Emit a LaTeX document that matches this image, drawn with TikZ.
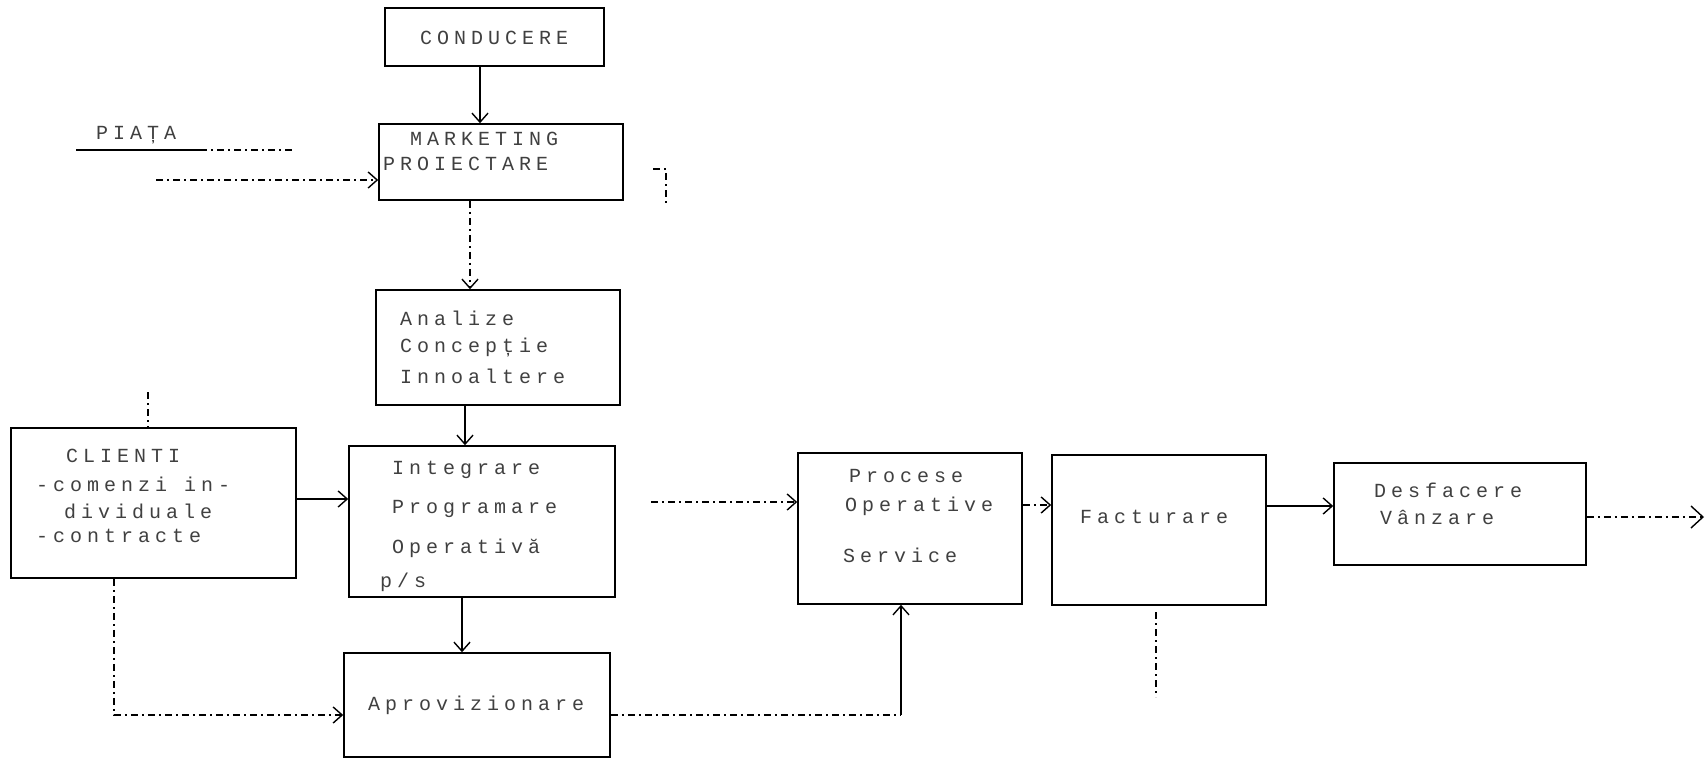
\documentclass[tikz,border=0pt]{standalone}
\usepackage{fontspec}
\newfontfamily\tw{Liberation Mono}[LetterSpace=25]
\usetikzlibrary{arrows.meta}
\tikzset{
  box/.style={draw=black, line width=1.6pt, rectangle, inner sep=0pt},
  lbl/.style={anchor=west, inner sep=0pt, text=black!75, font=\tw\fontsize{20}{24}\selectfont},
  arr/.style={line width=1.4pt, -{Straight Barb[length=9pt,width=16pt,line width=1.4pt]}},
  dsh/.style={line width=1.4pt, dash pattern=on 7pt off 4pt on 2pt off 4pt},
  ln/.style={line width=1.4pt}
}
\begin{document}
\begin{tikzpicture}[x=1pt,y=-1pt]
\useasboundingbox (0,0) rectangle (1707,761);
% boxes
\node[box, minimum width=219pt, minimum height=58pt] (cond) at (494.5,37) {};
\node[box, minimum width=244pt, minimum height=76pt] (mkt) at (501,162) {};
\node[box, minimum width=244pt, minimum height=115pt] (anal) at (498,347.5) {};
\node[box, minimum width=266pt, minimum height=151pt] (integ) at (482,521.5) {};
\node[box, minimum width=285pt, minimum height=150pt] (cli) at (153.5,503) {};
\node[box, minimum width=266pt, minimum height=104pt] (aprov) at (477,705) {};
\node[box, minimum width=224pt, minimum height=151pt] (proc) at (910,528.5) {};
\node[box, minimum width=214pt, minimum height=150pt] (fact) at (1159,530) {};
\node[box, minimum width=252pt, minimum height=102pt] (desf) at (1460,514) {};
% texts
\node[lbl] (tcond) at (420,38) {CONDUCERE};
\node[lbl] (tmkt1) at (410,139) {MARKETING};
\node[lbl] (tmkt2) at (383,164) {PROIECTARE};
\node[lbl] (tpiata) at (96,135) {PIAȚA};
\node[lbl] (tan1) at (400,318) {Analize};
\node[lbl] (tan2) at (400,347) {Concepție};
\node[lbl] (tan3) at (400,376) {Innoaltere};
\node[lbl] (tcl1) at (66,456) {CLIENTI};
\node[lbl] (tcl2) at (36,484) {-comenzi in-};
\node[lbl] (tcl3) at (64,511) {dividuale};
\node[lbl] (tcl4) at (36,536) {-contracte};
\node[lbl] (tin1) at (392,470) {Integrare};
\node[lbl] (tin2) at (392,509) {Programare};
\node[lbl] (tin3) at (392,548) {Operativă};
\node[lbl] (tin4) at (380,582) {p/s};
\node[lbl] (tap) at (368,705) {Aprovizionare};
\node[lbl] (tpr1) at (849,476) {Procese};
\node[lbl] (tpr2) at (845,506) {Operative};
\node[lbl] (tpr3) at (843,555) {Service};
\node[lbl] (tfa) at (1080,517) {Facturare};
\node[lbl] (tde1) at (1374,490) {Desfacere};
\node[lbl] (tde2) at (1380,517) {Vânzare};
% coordinates
\coordinate (xc1) at (480,0);
\coordinate (xc2) at (470,0);
\coordinate (xc3) at (465,0);
\coordinate (xc4) at (462,0);
\coordinate (xc5) at (901,0);
\coordinate (xc6) at (148,0);
\coordinate (xc7) at (114,0);
\coordinate (pu1) at (76,150);
\coordinate (pu2) at (200,150);
\coordinate (pu3) at (295,150);
\coordinate (pin) at (156,180);
\coordinate (st1) at (653,169);
\coordinate (st2) at (666,169);
\coordinate (st3) at (666,203);
\coordinate (cltop) at (148,392);
\coordinate (clcorner) at (114,715);
\coordinate (apcorner) at (901,715);
\coordinate (ipstart) at (651,502);
\coordinate (out) at (1704,517);
\coordinate (fb1) at (1156,612);
\coordinate (fb2) at (1156,697);
% connectors
\draw[arr] (cond.south -| xc1) -- (mkt.north -| xc1);
\draw[ln] (pu1) -- (pu2);
\draw[dsh] (pu2) -- (pu3);
\draw[dsh, -{Straight Barb[length=9pt,width=16pt,line width=1.4pt]}] (pin) -- (pin -| mkt.west);
\draw[dsh] (st1) -- (st2) -- (st3);
\draw[dsh, -{Straight Barb[length=9pt,width=16pt,line width=1.4pt]}] (mkt.south -| xc2) -- (anal.north -| xc2);
\draw[arr] (anal.south -| xc3) -- (integ.north -| xc3);
\draw[dsh] (cltop) -- (cli.north -| xc6);
\draw[arr] (cli.east |- 0,499) -- (integ.west |- 0,499);
\draw[dsh, -{Straight Barb[length=9pt,width=16pt,line width=1.4pt]}] (cli.south -| xc7) -- (clcorner) -- (clcorner -| aprov.west);
\draw[arr] (integ.south -| xc4) -- (aprov.north -| xc4);
\draw[dsh] (aprov.east |- apcorner) -- (apcorner);
\draw[arr] (apcorner) -- (proc.south -| xc5);
\draw[dsh, -{Straight Barb[length=9pt,width=16pt,line width=1.4pt]}] (ipstart) -- (ipstart -| proc.west);
\draw[dsh, -{Straight Barb[length=9pt,width=16pt,line width=1.4pt]}] (proc.east |- 0,505) -- (fact.west |- 0,505);
\draw[arr] (fact.east |- 0,506) -- (desf.west |- 0,506);
\draw[dsh, -{Straight Barb[length=12pt,width=22pt,line width=1.4pt]}] (desf.east |- out) -- (out);
\draw[dsh] (fb1) -- (fb2);
\end{tikzpicture}
\end{document}
